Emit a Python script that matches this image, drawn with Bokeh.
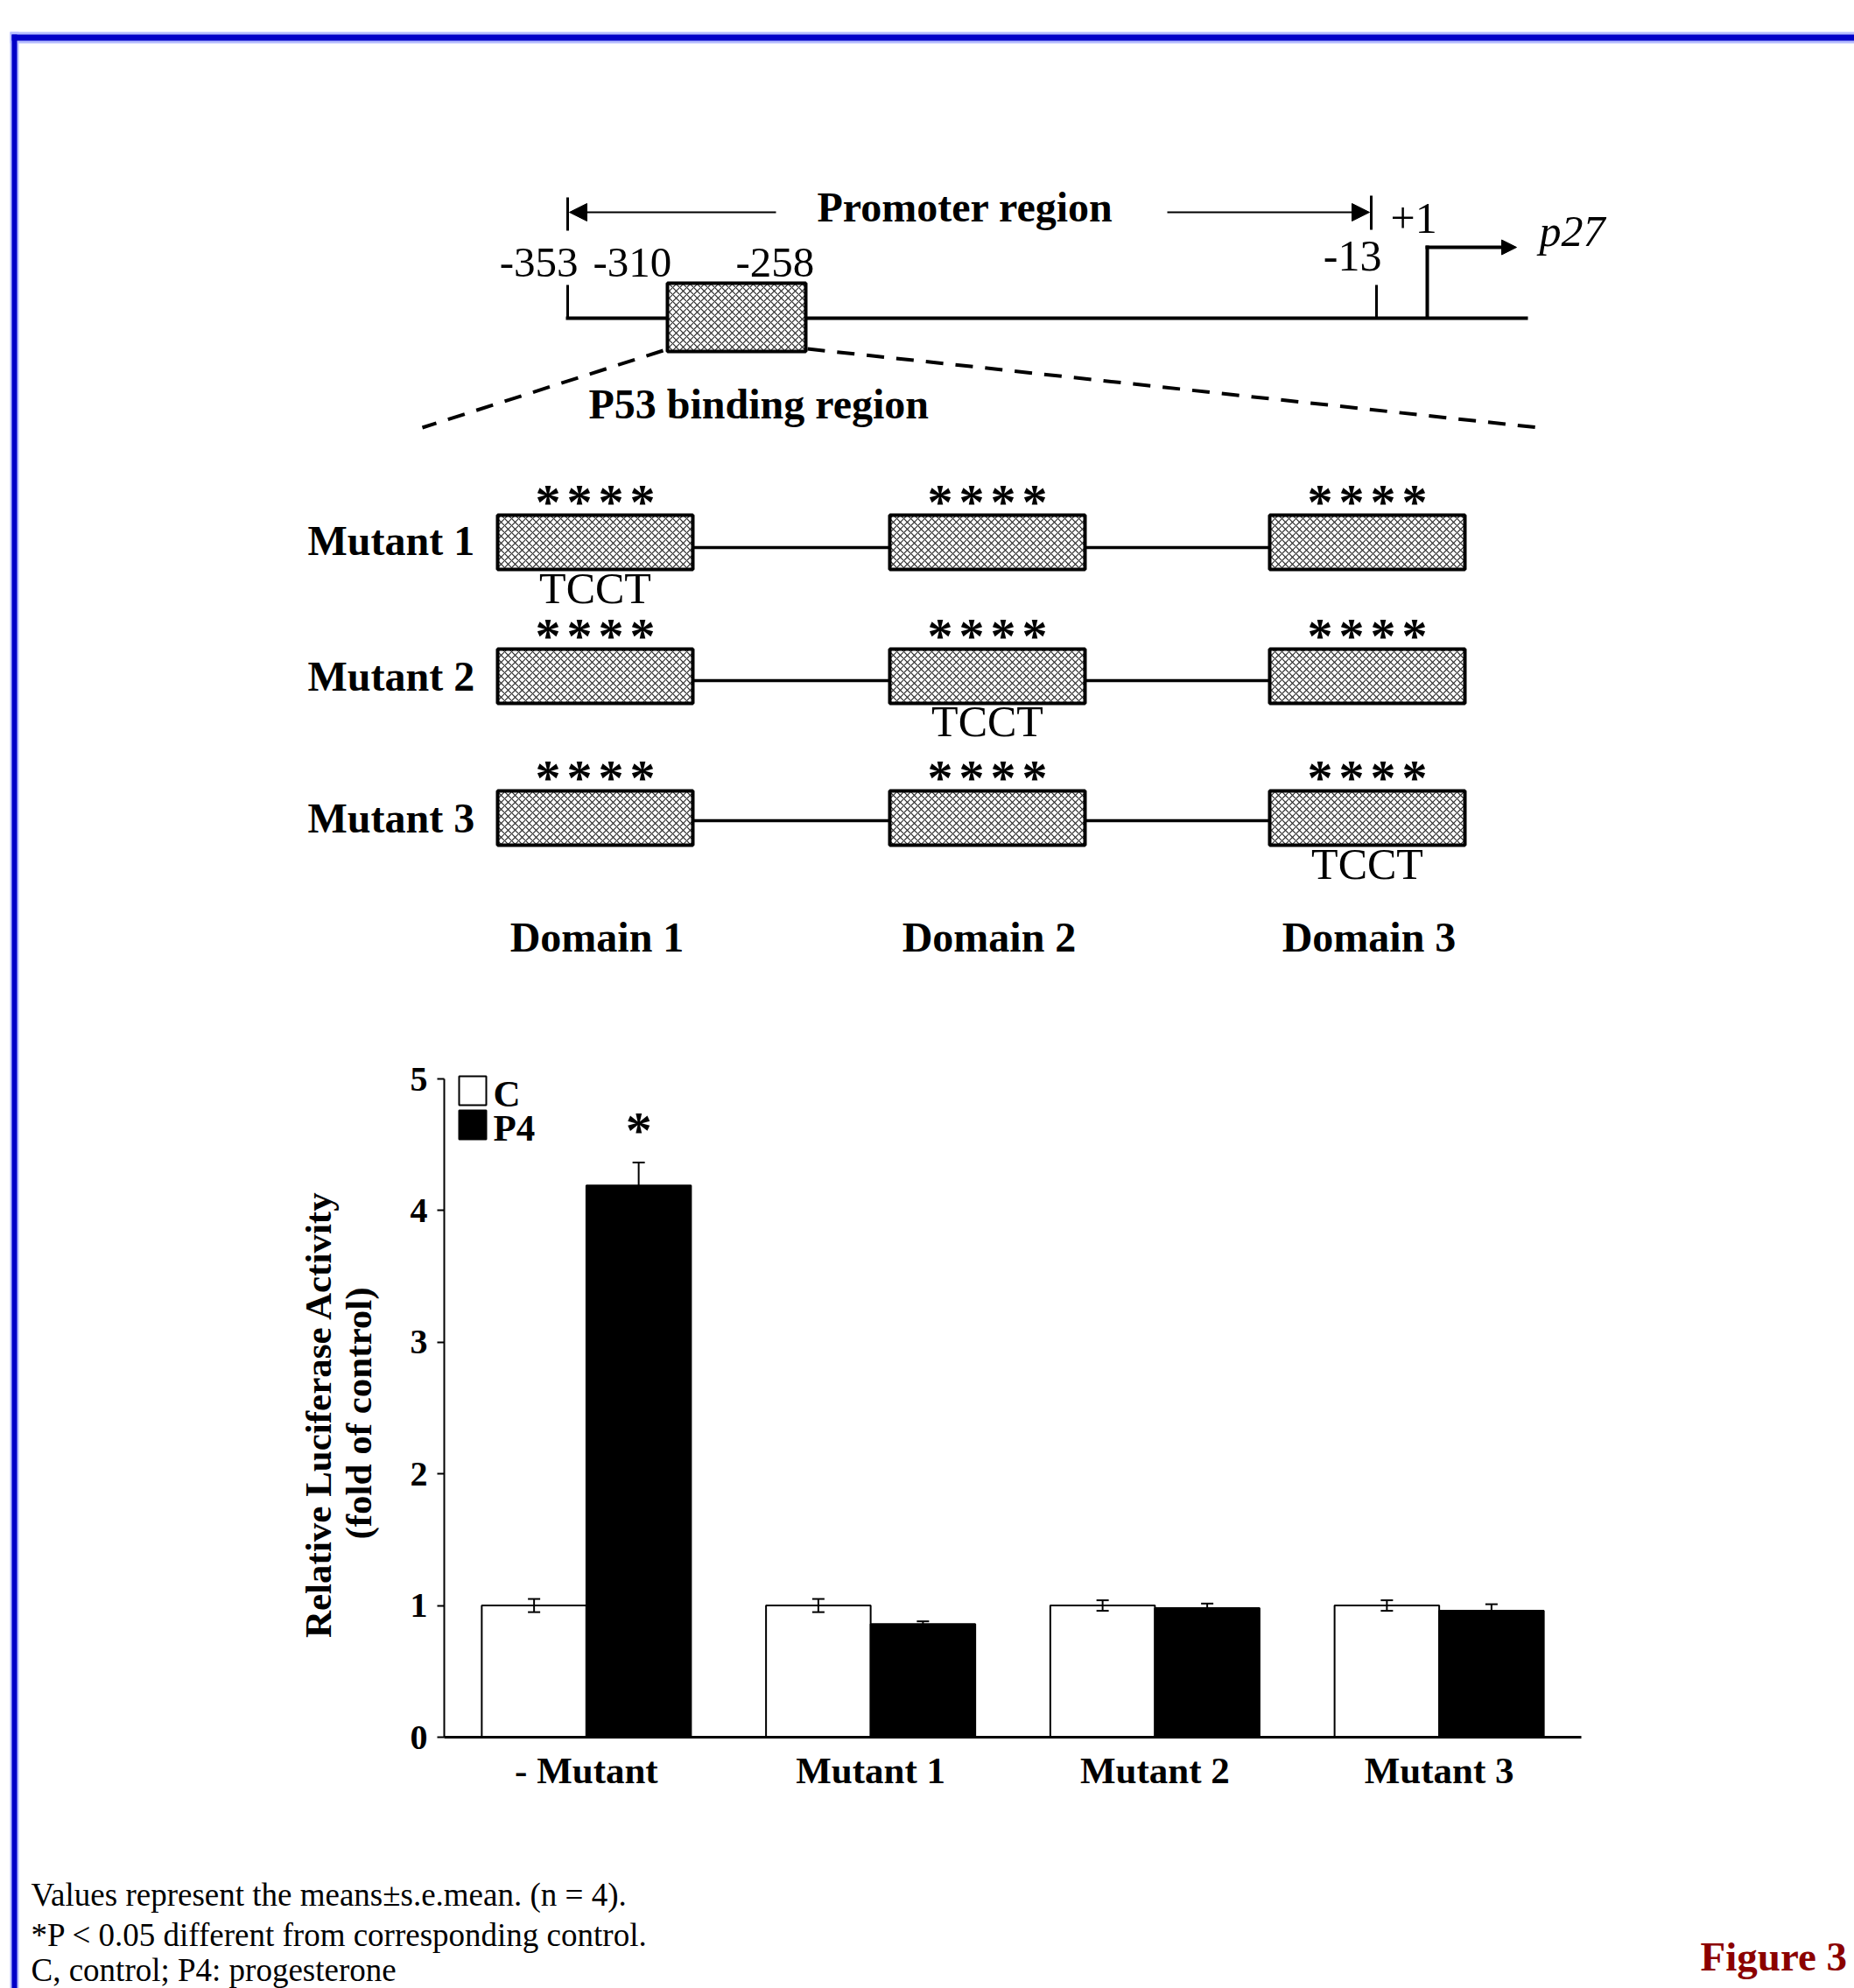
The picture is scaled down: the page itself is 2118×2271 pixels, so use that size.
import math
from bokeh.plotting import figure
from bokeh.models import (ColumnDataSource, Range1d, FixedTicker, Whisker, TeeHead,
                          Arrow, NormalHead, LinearAxis)
from bokeh.core.properties import value
from bokeh.embed import file_html
from bokeh.resources import INLINE

SERIF = "Liberation Serif"

# ---------------- bar chart data ----------------
groups = ["- Mutant", "Mutant 1", "Mutant 2", "Mutant 3"]
control = [1.00, 1.00, 1.00, 1.00]
control_err = [0.05, 0.05, 0.04, 0.04]
p4 = [4.19, 0.86, 0.98, 0.96]
p4_err = [0.175, 0.02, 0.035, 0.05]
significant = ["- Mutant"]
y_ticks = [0, 1, 2, 3, 4, 5]
series_labels = ["C", "P4"]
series_fill = ["white", "black"]
y_label_lines = ["Relative Luciferase Activity", "(fold of control)"]

# ---------------- diagram content ----------------
promoter_title = "Promoter region"
binding_title = "P53 binding region"
mutant_rows = ["Mutant 1", "Mutant 2", "Mutant 3"]
domain_labels = ["Domain 1", "Domain 2", "Domain 3"]
mutated_domain = [0, 1, 2]
mutation_text = "TCCT"
caption_lines = ["Values represent the means\u00b1s.e.mean. (n = 4).",
                 "*P < 0.05 different from corresponding control.",
                 "C, control; P4: progesterone"]
figure_label = "Figure 3"

# ---------------- page geometry (pixels) ----------------
W, H = 2118, 2271
CAT0_PX, PX_PER_CAT = 507, 324.75      # left end of the category axis, px per group
ZERO_PX, PX_PER_UNIT = 1984, 150.4     # y = 0 line, px per fold unit
OFF, BW = 0.184, 0.368                  # dodge offset / bar width (in group units)

BORDER_BLUE = "#0000c8"
HALO_BLUE = "#b4bcff"
HATCH = dict(fill_color="white", hatch_pattern="diagonal_cross", hatch_scale=8,
             hatch_weight=1.2, hatch_color="#2a2a2a")
PX = dict(x_range_name="px", y_range_name="px")

p = figure(width=W, height=H,
           x_range=Range1d(-CAT0_PX / PX_PER_CAT, (W - CAT0_PX) / PX_PER_CAT),
           y_range=Range1d(-(H - ZERO_PX) / PX_PER_UNIT, ZERO_PX / PX_PER_UNIT),
           x_axis_location=None, y_axis_location=None, min_border=0,
           toolbar_location=None, output_backend="svg")
p.extra_x_ranges = {"px": Range1d(0, W)}
p.extra_y_ranges = {"px": Range1d(H, 0)}
p.outline_line_color = None
p.grid.visible = False

SHIFT = 0.325   # svg text is drawn this many em below its anchor


def txt(x, y, s, size, style="normal", align="left", color="black", angle=0.0):
    """x, y: left/centre/right and baseline position in page pixels."""
    if angle:
        x = x - SHIFT * size
    else:
        y = y - SHIFT * size
    p.text(x=[x], y=[y], text=[s], text_font=value(SERIF), text_font_size=f"{size}px",
           text_font_style=style, text_align=align, text_baseline="alphabetic",
           text_color=color, angle=angle, **PX)


# ---------------- page border ----------------
p.quad(left=[11], right=[W], top=[36], bottom=[49], fill_color=HALO_BLUE, line_color=None, **PX)
p.quad(left=[11], right=[21], top=[36], bottom=[H], fill_color=HALO_BLUE, line_color=None, **PX)
p.quad(left=[13], right=[W], top=[39], bottom=[46], fill_color=BORDER_BLUE, line_color=None, **PX)
p.quad(left=[13], right=[19], top=[39], bottom=[H], fill_color=BORDER_BLUE, line_color=None, **PX)

# ---------------- promoter diagram ----------------
p.segment(x0=[648, 1566], y0=[225, 223], x1=[648, 1566], y1=[263, 262],
          line_width=3, line_color="black", **PX)
for xs, xe in ((886, 650), (1333, 1564)):
    p.add_layout(Arrow(x_start=xs, y_start=242, x_end=xe, y_end=242, line_width=2,
                       end=NormalHead(size=20, fill_color="black", line_color="black"), **PX))
txt(933, 252, promoter_title, 48, "bold")

p.line([646, 1745], [363, 363], line_width=4, line_color="black", **PX)
p.segment(x0=[648, 1572], y0=[325, 325], x1=[648, 1572], y1=[363, 363],
          line_width=3, line_color="black", **PX)
p.segment(x0=[1630], y0=[363], x1=[1630], y1=[280], line_width=4, line_color="black", **PX)
p.add_layout(Arrow(x_start=1628, y_start=282, x_end=1732, y_end=282, line_width=4,
                   end=NormalHead(size=17, fill_color="black", line_color="black"), **PX))
txt(660, 315, "-353", 49, align="right")
txt(677, 315, "-310", 49)
txt(840, 315, "-258", 49)
txt(1578, 308, "-13", 50, align="right")
txt(1588, 265, "+1", 50)
txt(1758, 280, "p27", 50, style="italic")

p.line([757, 482], [400, 488], line_width=4, line_dash="20 14", line_color="black", **PX)
p.line([922, 1757], [398, 488], line_width=4, line_dash="20 14", line_color="black", **PX)
p.quad(left=[762], right=[920], top=[323], bottom=[401], line_width=4, line_color="black",
       **HATCH, **PX)
txt(672, 477, binding_title, 48, "bold")

# ---------------- mutant constructs ----------------
dom_left = [568, 1016, 1450]
dom_w = 223
row_top = [588, 741, 903]
row_h = 62
row_line = [625, 777, 937]
row_label_base = [633, 788, 950]
tcct_base = [688, 840, 1003]
star_center = [565, 718, 880]
for r, name in enumerate(mutant_rows):
    p.line([dom_left[0], dom_left[2] + dom_w], [row_line[r]] * 2, line_width=3.5,
           line_color="black", **PX)
    p.quad(left=dom_left, right=[d + dom_w for d in dom_left], top=[row_top[r]] * 3,
           bottom=[row_top[r] + row_h] * 3, line_width=4, line_color="black", **HATCH, **PX)
    txt(351, row_label_base[r], name, 48, "bold")
    sx, sy = [], []
    for d in dom_left:
        for k in range(4):
            sx.append(d + dom_w / 2 + (k - 1.5) * 36)
            sy.append(star_center[r] + 8)
    p.text(x=sx, y=sy, text=["*"] * len(sx), text_font=value(SERIF), text_font_size="58px",
           text_font_style="bold", text_align="center", text_baseline="alphabetic", **PX)
    m = mutated_domain[r]
    txt(dom_left[m] + dom_w / 2, tcct_base[r], mutation_text, 50, align="center")
for i, d in enumerate(dom_left):
    txt(d + dom_w / 2 + 2, 1086, domain_labels[i], 48, "bold", align="center")

# ---------------- bar chart ----------------
centers = [i + 0.5 for i in range(len(groups))]
src = ColumnDataSource(dict(
    xc=[c - OFF for c in centers], xp=[c + OFF for c in centers],
    c=control, p=p4,
    c_lo=[v - e for v, e in zip(control, control_err)],
    c_hi=[v + e for v, e in zip(control, control_err)],
    p_lo=[v - e for v, e in zip(p4, p4_err)],
    p_hi=[v + e for v, e in zip(p4, p4_err)],
))
p.vbar(x="xc", top="c", bottom=0, width=BW, source=src, fill_color=series_fill[0],
       line_color="black", line_width=2)
p.vbar(x="xp", top="p", bottom=0, width=BW, source=src, fill_color=series_fill[1],
       line_color="black", line_width=2)
for base, lo, hi in (("xc", "c_lo", "c_hi"), ("xp", "p_lo", "p_hi")):
    p.add_layout(Whisker(source=src, base=base, upper=hi, lower=lo, line_width=2,
                         line_color="black", level="overlay",
                         upper_head=TeeHead(size=14, line_width=2, line_color="black"),
                         lower_head=TeeHead(size=14, line_width=2, line_color="black")))
sig_idx = [groups.index(g) for g in significant]
star_src = ColumnDataSource(dict(x=[centers[i] + OFF for i in sig_idx],
                                 y=[p4[i] + p4_err[i] + 0.245 for i in sig_idx],
                                 t=["*"] * len(sig_idx)))
p.text(x="x", y="y", text="t", source=star_src, text_font=value(SERIF),
       text_font_size="60px", text_font_style="bold", text_align="center",
       text_baseline="alphabetic")

xa = LinearAxis(fixed_location=0, bounds=(0, len(groups)),
                ticker=FixedTicker(ticks=centers),
                major_label_overrides={c: g for c, g in zip(centers, groups)})
xa.axis_line_width = 3
xa.major_tick_out = 0
xa.major_tick_in = 0
xa.minor_tick_line_color = None
xa.major_label_text_font = SERIF
xa.major_label_text_font_size = "43px"
xa.major_label_text_font_style = "bold"
xa.major_label_text_color = "black"
xa.major_label_standoff = 14
p.add_layout(xa, "below")

ya = LinearAxis(fixed_location=0, bounds=(y_ticks[0], y_ticks[-1]),
                ticker=FixedTicker(ticks=y_ticks))
ya.axis_line_width = 2
ya.major_tick_out = 8
ya.major_tick_in = 0
ya.major_tick_line_width = 2
ya.minor_tick_line_color = None
ya.major_label_text_font = SERIF
ya.major_label_text_font_size = "40px"
ya.major_label_text_font_style = "bold"
ya.major_label_text_color = "black"
ya.major_label_standoff = 11
p.add_layout(ya, "left")

# y axis title (two lines)
txt(377, 1615, y_label_lines[0], 43, "bold", align="center", angle=math.pi / 2)
txt(423, 1614, y_label_lines[1], 43, "bold", align="center", angle=math.pi / 2)

# legend keys
key_top = [1229, 1268]
for i, lab in enumerate(series_labels):
    p.quad(left=[524], right=[555], top=[key_top[i]], bottom=[key_top[i] + 33],
           fill_color=series_fill[i], line_color="black", line_width=2, **PX)
    txt(563, key_top[i] + 34, lab, 43, "bold")

# ---------------- captions ----------------
for line, base in zip(caption_lines, [2176, 2222, 2262]):
    txt(35, base, line, 37)
txt(1942, 2250, figure_label, 47, "bold", color="#8b0000")

open("out.html", "w").write(file_html(p, INLINE))
